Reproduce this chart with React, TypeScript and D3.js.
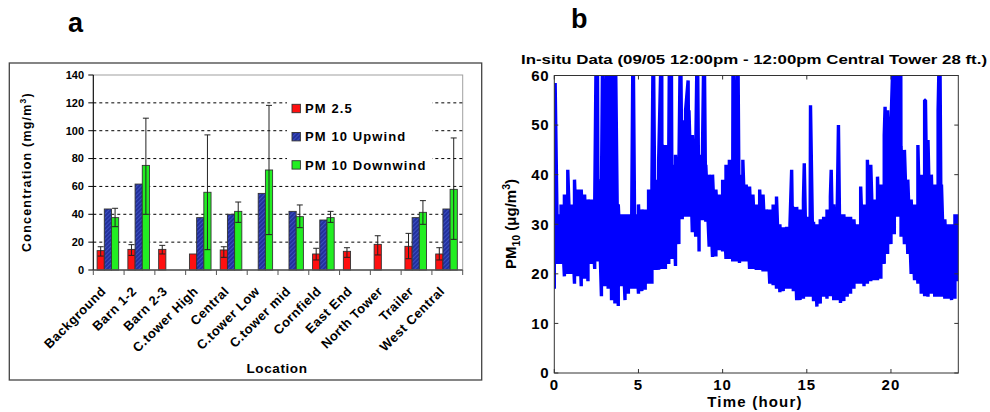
import React from "react";
import * as d3 from "d3";

// ---------- Panel a data ----------
const locations = [
  "Background", "Barn 1-2", "Barn 2-3", "C.tower High", "Central", "C.tower Low",
  "C.tower mid", "Cornfield", "East End", "North Tower", "Trailer", "West Central",
];
const seriesNames = ["PM 2.5", "PM 10 Upwind", "PM 10 Downwind"];
const pm25 = [13.9, 14.8, 14.8, 11.5, 14.4, null, null, 11.5, 13.4, 18.4, 17, 11.5];
const pm25ErrLow = [10, 10.5, 11.5, null, 9.1, null, null, 7.2, 9.1, 10.8, 8.1, 7.2];
const pm25ErrHigh = [16.7, 18.2, 17.7, null, 16.7, null, null, 15.6, 16, 24.6, 26.3, 16];
const pm10Upwind = [43.8, 61.7, null, 37.6, 40, 55, 42.1, 35.9, null, null, 37.6, 43.8];
const pm10Downwind = [37.6, 75.1, null, 55.8, 42.1, 71.8, 38.3, 37.6, null, null, 41.4, 57.9];
const pm10DownErrLow = [31.1, 40, null, 14.6, 34.2, 25.4, 30.4, 34.2, null, null, 32.8, 22];
const pm10DownErrHigh = [44.3, 109, null, 97, 48.8, 118.2, 46.7, 42.1, null, null, 49.8, 94.8];
const yTicksA = [0, 20, 40, 60, 80, 100, 120, 140];
const gridA = [20, 40, 60, 80, 100, 120];

// ---------- Panel b data ----------
const bandHours = [
  0, 0.2, 0.4, 0.6, 0.8, 1, 1.2, 1.4, 1.6, 1.8, 2, 2.2, 2.4, 2.6, 2.8, 3, 3.2, 3.4, 3.6, 3.8,
  4, 4.2, 4.4, 4.6, 4.8, 5, 5.2, 5.4, 5.6, 5.8, 6, 6.2, 6.4, 6.6, 6.8, 7, 7.2, 7.4, 7.6, 7.8,
  8, 8.2, 8.4, 8.6, 8.8, 9, 9.2, 9.4, 9.6, 9.8, 10, 10.2, 10.4, 10.6, 10.8, 11, 11.2, 11.4, 11.6, 11.8,
  12, 12.2, 12.4, 12.6, 12.8, 13, 13.2, 13.4, 13.6, 13.8, 14, 14.2, 14.4, 14.6, 14.8, 15, 15.2, 15.4, 15.6, 15.8,
  16, 16.2, 16.4, 16.6, 16.8, 17, 17.2, 17.4, 17.6, 17.8, 18, 18.2, 18.4, 18.6, 18.8, 19, 19.2, 19.4, 19.6, 19.8,
  20, 20.2, 20.4, 20.6, 20.8, 21, 21.2, 21.4, 21.6, 21.8, 22, 22.2, 22.4, 22.6, 22.8, 23, 23.2, 23.4, 23.6, 23.8, 24,
];
const bandHigh = [
  32, 32, 34, 36, 41, 34, 39, 37, 37, 36, 35, 35, 34, 39, 36, 32, 33, 34, 35, 34,
  32, 32, 32, 32, 32, 34, 33, 33, 37, 38, 39, 43, 46, 46, 45, 42, 44, 41, 51, 53,
  53, 48, 44, 44, 44, 42, 40, 40, 37, 36, 39, 42, 43, 39, 39, 40, 43, 38, 37.6, 36,
  34, 37, 36, 33, 33, 34, 35.6, 30, 29.4, 29.5, 30, 33.5, 33.5, 33, 35, 31.5, 31.5, 30.5, 30, 31,
  31.5, 33, 35.6, 34, 31, 32, 32, 31.5, 31.5, 31, 30, 37.6, 34, 43, 42, 35, 39.6, 38, 48, 53,
  50, 47.6, 47, 45.6, 45, 39, 35, 34, 46, 40, 55, 47, 40, 38, 53, 38, 31, 30, 30, 32, 32,
];
const bandLow = [
  17, 22, 22, 19.5, 20, 20, 18, 19.5, 17.5, 19, 18.5, 22, 21, 22.5, 15.5, 17.5, 17, 14.7, 14, 13.5,
  17.5, 14.7, 16, 17, 17, 16, 16.5, 16.8, 18, 18, 20.8, 20.8, 21, 21, 22, 23, 21.6, 26, 31, 31.5,
  31.5, 28.4, 27.5, 24.5, 30.8, 30.5, 25.5, 23.4, 23.5, 24.8, 24.5, 23, 23, 22.5, 22.5, 22.2, 22.5, 22.5, 21, 21,
  20.8, 20.8, 20.5, 20.5, 18, 17.7, 17, 16.3, 16.5, 17, 17, 16.5, 14.7, 14.7, 15, 15.4, 15.4, 14.5, 13.4, 14,
  15.4, 15, 15.5, 14.7, 14.7, 14.1, 14.5, 15.4, 16, 17, 18, 18, 17.5, 18, 18.5, 18.7, 18.7, 19, 22, 24,
  26, 28, 31.5, 27.5, 26, 24, 20, 18.7, 18, 16, 15.5, 15.4, 16, 15.4, 15.4, 15.4, 15, 15, 14.7, 15, 18.5,
];
const spikeHours = [
  0.05, 2.5, 2.56, 2.88, 3.15, 3.25, 3.45, 3.52, 3.62, 4.68, 5.88, 6.38, 6.85, 6.95, 7.5, 7.95,
  8.5, 8.9, 10.62, 10.9, 14.1, 14.85, 15.22, 16.45, 16.88, 19.65, 20.18, 20.3, 20.58, 22.05, 22.9,
];
const spikeValues = [
  58.5, 70, 70, 70, 70, 70, 70, 70, 70, 70, 70, 70, 70, 70, 70, 59,
  70, 70, 70, 70, 41, 42.3, 54, 41, 50, 53.7, 70, 70, 70, 55, 70,
];
const xTicksB = [0, 5, 10, 15, 20];
const yTicksB = [0, 10, 20, 30, 40, 50, 60];

const FONT = "Arial, 'Liberation Sans', sans-serif";

function PanelA() {
  const left = 93.3, right = 462.7, top = 75, bottom = 270;
  const y = d3.scaleLinear().domain([0, 140]).range([bottom, top]);
  const x0 = d3.scaleBand<string>().domain(locations).range([left, right]).paddingInner(0).paddingOuter(0);
  const groupW = 21.6;
  const x1 = d3.scaleBand<string>().domain(seriesNames).range([0, groupW]);
  const off = (x0.bandwidth() - groupW) / 2 - 0.8;
  const bw = x1.bandwidth();
  const fills = ["#ff1010", "url(#hatchBlue)", "#22ee22"];
  const seriesVals = [pm25, pm10Upwind, pm10Downwind];
  const errs: [(number | null)[], (number | null)[]][] = [
    [pm25ErrLow, pm25ErrHigh],
    [[], []],
    [pm10DownErrLow, pm10DownErrHigh],
  ];

  return (
    <g>
      <text x={68} y={32} fontFamily={FONT} fontWeight="bold" fontSize={27}>a</text>
      <rect x={9.3} y={63} width={472.4} height={317} fill="#fff" stroke="#444" strokeWidth={1.3} />
      <rect x={left} y={top} width={right - left} height={bottom - top} fill="none" stroke="#a0a0a0" strokeWidth={1} />
      {gridA.map((t) => (
        <line key={t} x1={left} x2={right} y1={y(t)} y2={y(t)} stroke="#000" strokeWidth={1} strokeDasharray="3,3" />
      ))}
      <rect x={287} y={93} width={145} height={86} fill="#fff" />
      {locations.map((loc, i) => (
        <g key={loc}>
          {seriesNames.map((s, k) => {
            const v = seriesVals[k][i];
            if (v == null) return null;
            const bx = (x0(loc) as number) + off + (x1(s) as number);
            return (
              <rect key={s} x={bx} y={y(v)} width={bw} height={y(0) - y(v)} fill={fills[k]} stroke="#333" strokeWidth={0.9} />
            );
          })}
          {seriesNames.map((s, k) => {
            const lo = errs[k][0][i];
            const hi = errs[k][1][i];
            if (lo == null || hi == null) return null;
            const cx = (x0(loc) as number) + off + (x1(s) as number) + bw / 2;
            return (
              <g key={"e" + s} stroke="#222" strokeWidth={1}>
                <line x1={cx} x2={cx} y1={y(lo)} y2={y(hi)} />
                <line x1={cx - 3} x2={cx + 3} y1={y(lo)} y2={y(lo)} />
                <line x1={cx - 3} x2={cx + 3} y1={y(hi)} y2={y(hi)} />
              </g>
            );
          })}
        </g>
      ))}
      <line x1={left} x2={left} y1={top} y2={bottom} stroke="#000" strokeWidth={1} />
      <line x1={left} x2={right} y1={bottom} y2={bottom} stroke="#555" strokeWidth={1.3} />
      {yTicksA.map((t) => (
        <g key={t}>
          <line x1={left - 5} x2={left} y1={y(t)} y2={y(t)} stroke="#000" />
          <text x={84} y={y(t)} dy="0.35em" textAnchor="end" fontFamily={FONT} fontWeight="bold" fontSize={11}>{t}</text>
        </g>
      ))}
      {[...locations.map((l) => x0(l) as number), right].map((xx, i) => (
        <line key={i} x1={xx} x2={xx} y1={bottom} y2={bottom + 5} stroke="#555" strokeWidth={1} />
      ))}
      {locations.map((loc) => {
        const cx = (x0(loc) as number) + x0.bandwidth() / 2 - 2;
        const cy = 292;
        return (
          <text key={loc} x={cx} y={cy} transform={`rotate(-45 ${cx} ${cy})`} textAnchor="end" fontFamily={FONT}
            fontWeight="bold" fontSize={13} letterSpacing={0.5}>{loc}</text>
        );
      })}
      <text x={277} y={372.5} textAnchor="middle" fontFamily={FONT} fontWeight="bold" fontSize={13.5} letterSpacing={0.6}>Location</text>
      <text transform="translate(31,172) rotate(-90)" textAnchor="middle" fontFamily={FONT} fontWeight="bold" fontSize={12.5} letterSpacing={1.2}>
        Concentration (mg/m<tspan dy={-5} fontSize={8.5}>3</tspan><tspan dy={5}>)</tspan>
      </text>
      {seriesNames.map((s, k) => {
        const cy = 108.5 + k * 28.2;
        return (
          <g key={s}>
            <rect x={292} y={cy - 4.2} width={8.4} height={8.4} fill={fills[k]} stroke="#333" strokeWidth={0.9} />
            <text x={305} y={cy} dy="0.36em" fontFamily={FONT} fontWeight="bold" fontSize={13} letterSpacing={1.1}>{s}</text>
          </g>
        );
      })}
    </g>
  );
}

function PanelB() {
  const left = 554.3, right = 958.3, top = 75.5, bottom = 373;
  const x = d3.scaleLinear().domain([0, 24]).range([left, right]);
  const y = d3.scaleLinear().domain([0, 60]).range([bottom, top]);

  const spikes = spikeHours.map((h, i) => ({ h, v: spikeValues[i] })).sort((a, b) => a.h - b.h);
  const pts: [number, number][] = [];
  let s = 0;
  bandHours.forEach((h, i) => {
    pts.push([h, bandLow[i]]);
    pts.push([h, bandHigh[i]]);
    const next = i + 1 < bandHours.length ? bandHours[i + 1] : Infinity;
    while (s < spikes.length && spikes[s].h < next) {
      pts.push([spikes[s].h, spikes[s].v]);
      s++;
    }
  });
  const line = d3.line<[number, number]>().x((d) => x(d[0])).y((d) => y(d[1]));

  return (
    <g>
      <text x={571} y={28} fontFamily={FONT} fontWeight="bold" fontSize={27}>b</text>
      <text x={754} y={64} textAnchor="middle" fontFamily={FONT} fontWeight="bold" fontSize={13.5}
        textLength={466} lengthAdjust="spacingAndGlyphs">In-situ Data (09/05 12:00pm - 12:00pm Central Tower 28 ft.)</text>
      <defs>
        <clipPath id="clipB">
          <rect x={left} y={top} width={right - left} height={bottom - top} />
        </clipPath>
      </defs>
      <rect x={left} y={top} width={right - left} height={bottom - top} fill="#fff" />
      <path d={line(pts) || ""} fill="none" stroke="#0000ff" strokeWidth={3.4} strokeLinejoin="bevel" clipPath="url(#clipB)" />
      <rect x={left} y={top} width={right - left} height={bottom - top} fill="none" stroke="#333" strokeWidth={1} />
      {xTicksB.map((t) => (
        <g key={t}>
          <line x1={x(t)} x2={x(t)} y1={bottom} y2={bottom - 4} stroke="#333" />
          <line x1={x(t)} x2={x(t)} y1={top} y2={top + 4} stroke="#333" />
          <text x={x(t)} y={390} textAnchor="middle" fontFamily={FONT} fontWeight="bold" fontSize={15} letterSpacing={1}>{t}</text>
        </g>
      ))}
      {yTicksB.map((t) => (
        <g key={t}>
          <line x1={left} x2={left + 4} y1={y(t)} y2={y(t)} stroke="#333" />
          <line x1={right} x2={right - 4} y1={y(t)} y2={y(t)} stroke="#333" />
          <text x={549} y={y(t)} dy="0.36em" textAnchor="end" fontFamily={FONT} fontWeight="bold" fontSize={15} letterSpacing={0.5}>{t}</text>
        </g>
      ))}
      <text x={755} y={407} textAnchor="middle" fontFamily={FONT} fontWeight="bold" fontSize={15} letterSpacing={1.2}>Time (hour)</text>
      <text transform="translate(516,224) rotate(-90)" textAnchor="middle" fontFamily={FONT} fontWeight="bold" fontSize={15}>
        PM<tspan dy={4} fontSize={10.5}>10</tspan><tspan dy={-4}> (μg/m</tspan><tspan dy={-6} fontSize={10.5}>3</tspan><tspan dy={6}>)</tspan>
      </text>
    </g>
  );
}

export default function App() {
  return (
    <svg width={990} height={412} viewBox="0 0 990 412"
      style={{ position: "absolute", left: 0, top: 0, display: "block", background: "#fff" }}>
      <defs>
        <pattern id="hatchBlue" patternUnits="userSpaceOnUse" width={3} height={3} patternTransform="rotate(45)">
          <rect width={3} height={3} fill="#22309c" />
          <line x1={0} y1={0} x2={0} y2={3} stroke="#4f63d8" strokeWidth={1.2} />
        </pattern>
      </defs>
      <rect width={990} height={412} fill="#fff" />
      <PanelA />
      <PanelB />
    </svg>
  );
}
